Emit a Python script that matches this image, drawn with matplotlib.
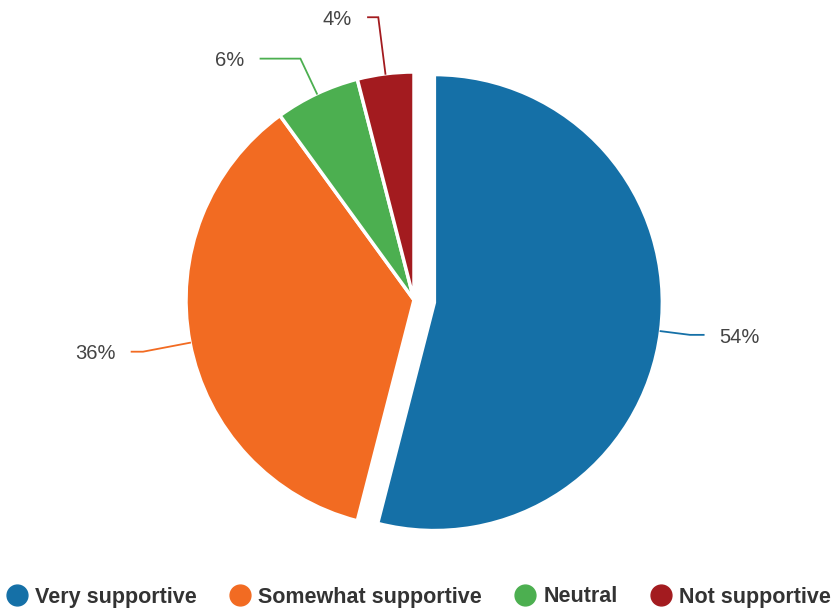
import numpy as np
import matplotlib
matplotlib.use("Agg")
import matplotlib.pyplot as plt
from matplotlib.lines import Line2D

categories = ["Very supportive", "Somewhat supportive", "Neutral", "Not supportive"]
values = [54, 36, 6, 4]
labels = ["54%", "36%", "6%", "4%"]
colors = ["#1570a7", "#f26b22", "#4caf50", "#a31b1f"]

plt.rcParams['font.family'] = ['Liberation Sans', 'DejaVu Sans']

W, H, DPI = 837, 608, 100
fig = plt.figure(figsize=(W / DPI, H / DPI), dpi=DPI)
ax = fig.add_axes([0, 0, 1, 1])

cx, cy, R = 414, 300, 228  # pixel center and radius

explode = [0.09, 0, 0, 0]
wedges, _ = ax.pie(values, colors=colors, startangle=90, counterclock=False,
                   explode=explode, radius=1.0,
                   wedgeprops=dict(edgecolor="white", linewidth=2.5),
                   normalize=True)
ax.set_aspect("auto")
ax.set_xlim(-cx / R, (W - cx) / R)
ax.set_ylim(-(H - cy) / R, cy / R)
ax.axis("off")

# leader lines (style params)
bend_r = [1.13, 1.21, 1.17, 1.25]
horiz = [0.06, 0.05, 0.175, 0.045]
total = sum(values)
start = 90.0
for i, v in enumerate(values):
    span = 360.0 * v / total
    mid = np.deg2rad(start - span / 2)
    start -= span
    ox = explode[i] * np.cos(mid)
    oy = explode[i] * np.sin(mid)
    x0, y0 = ox + 1.0 * np.cos(mid), oy + 1.0 * np.sin(mid)
    x1, y1 = ox + bend_r[i] * np.cos(mid), oy + bend_r[i] * np.sin(mid)
    side = 1 if np.cos(mid) >= 0 else -1
    x2 = x1 + side * horiz[i]
    ax.plot([x0, x1, x2], [y0, y1, y1], color=colors[i], lw=1.3,
            solid_joinstyle="miter")
    ax.text(x2 + side * 0.07, y1 - 0.01, labels[i], ha="left" if side > 0 else "right",
            va="center", fontsize=14.5, color="#444444")

handles = [Line2D([0], [0], marker="o", linestyle="none", markersize=15,
                  markerfacecolor=c, markeredgecolor=c) for c in colors]
leg = fig.legend(handles, categories, loc="center", bbox_to_anchor=(0.5, 1 - 597 / H),
                 ncol=4, frameon=False, handletextpad=0.35, columnspacing=1.5,
                 handlelength=1.0,
                 prop=dict(family="Liberation Sans", weight="bold", size=15.5))
for t in leg.get_texts():
    t.set_color("#333333")

fig.savefig("out.png", dpi=DPI)
